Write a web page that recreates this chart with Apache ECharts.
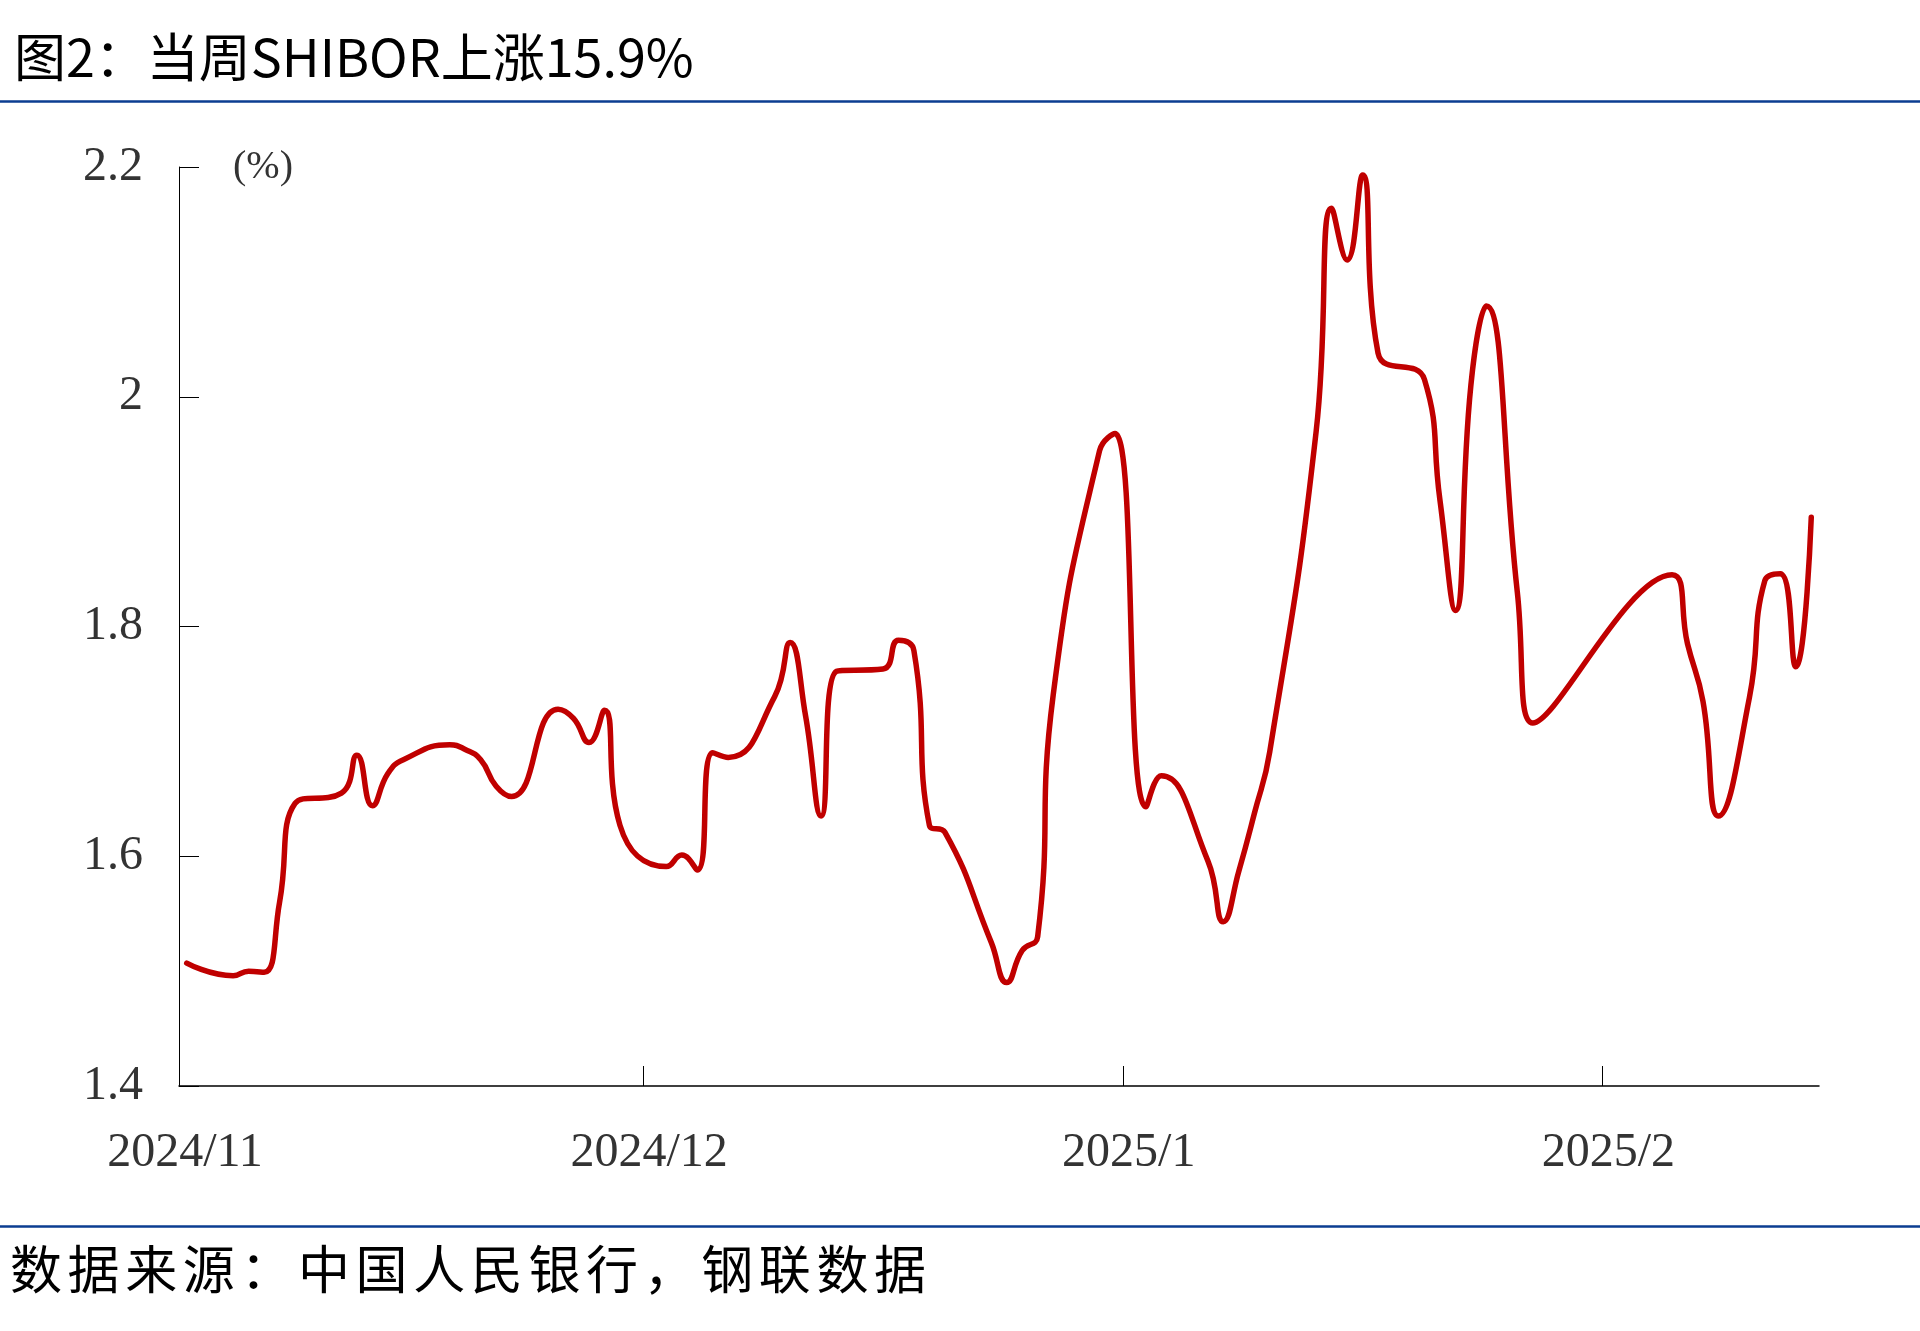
<!DOCTYPE html>
<html>
<head>
<meta charset="utf-8">
<script src="https://cdn.jsdelivr.net/npm/echarts@6/dist/echarts.min.js"></script>
<style>
  html, body { margin: 0; padding: 0; background: #fff; }
  #chart { width: 1920px; height: 1331px; }
</style>
</head>
<body>
<div id="chart"></div>
<script>
// ---- data ----
const titleText = '图2：当周SHIBOR上涨15.9%';
const sourceText = '数据来源：中国人民银行，钢联数据';
const unitLabel = '(%)';

const dates = [
  '2024-11-01','2024-11-04','2024-11-05','2024-11-06','2024-11-07','2024-11-08',
  '2024-11-11','2024-11-12','2024-11-13','2024-11-14','2024-11-15',
  '2024-11-18','2024-11-19','2024-11-20','2024-11-21','2024-11-22',
  '2024-11-25','2024-11-26','2024-11-27','2024-11-28','2024-11-29',
  '2024-12-02','2024-12-03','2024-12-04','2024-12-05','2024-12-06',
  '2024-12-09','2024-12-10','2024-12-11','2024-12-12','2024-12-13',
  '2024-12-16','2024-12-17','2024-12-18','2024-12-19','2024-12-20',
  '2024-12-23','2024-12-24','2024-12-25','2024-12-26','2024-12-27',
  '2024-12-30','2024-12-31',
  '2025-01-02','2025-01-03',
  '2025-01-06','2025-01-07','2025-01-08','2025-01-09','2025-01-10',
  '2025-01-13','2025-01-14','2025-01-15','2025-01-16','2025-01-17',
  '2025-01-20','2025-01-21','2025-01-22','2025-01-23','2025-01-24',
  '2025-01-26','2025-01-27',
  '2025-02-05','2025-02-06','2025-02-07','2025-02-08',
  '2025-02-10','2025-02-11','2025-02-12','2025-02-13','2025-02-14'
];
const shibor = [
  1.507, 1.496, 1.500, 1.499, 1.560, 1.646,
  1.655, 1.688, 1.644, 1.672, 1.684,
  1.697, 1.693, 1.684, 1.661, 1.652,
  1.728, 1.720, 1.699, 1.727, 1.627,
  1.591, 1.601, 1.588, 1.690, 1.686,
  1.739, 1.786, 1.722, 1.635, 1.761,
  1.763, 1.788, 1.779, 1.627, 1.621,
  1.525, 1.490, 1.518, 1.530, 1.740,
  1.953, 1.968,
  1.643, 1.670,
  1.596, 1.543, 1.587, 1.637, 1.691,
  1.970, 2.164, 2.119, 2.193, 2.038,
  2.015, 1.910, 1.814, 2.010, 2.079,
  1.830, 1.716,
  1.845, 1.785, 1.735, 1.635,
  1.738, 1.840, 1.846, 1.765, 1.895
];
const yTicks = [1.4, 1.6, 1.8, 2.0, 2.2];
const xTickDates = ['2024-11-01', '2024-12-01', '2025-01-01', '2025-02-01'];
const xTickLabels = ['2024/11', '2024/12', '2025/1', '2025/2'];
const xRange = ['2024-11-01', '2025-02-15'];

// ---- helpers ----
function toTime(s, hour) {
  const p = s.split('-');
  return new Date(+p[0], +p[1] - 1, +p[2], hour || 0).getTime();
}
// Points sit in the middle of their day slot (date axis "between tick marks")
const seriesData = dates.map((d, i) => [toTime(d, 12), shibor[i]]);
const tickTimes = xTickDates.map(d => toTime(d));
const DAY = 86400000;

// letter-spaced source text via rich spacers
const srcRich = sourceText.split('').map(c => '{c|' + c + '}').join('{s| }');

const chart = echarts.init(document.getElementById('chart'), null, { renderer: 'canvas' });
const serif = '"Liberation Serif", "Times New Roman", serif';
const cjk = '"Noto Sans CJK SC", sans-serif';

chart.setOption({
  backgroundColor: '#ffffff',
  animation: false,
  title: {
    text: titleText,
    left: 14,
    top: 31,
    padding: 0,
    textStyle: { fontFamily: cjk, fontSize: 52, fontWeight: 'normal', color: '#000' }
  },
  grid: { left: 179, right: 101, top: 167, bottom: 245, containLabel: false },
  xAxis: {
    type: 'time',
    min: toTime(xRange[0]),
    max: toTime(xRange[1]),
    splitNumber: 4,
    minInterval: 28 * DAY,
    maxInterval: 31 * DAY,
    splitLine: { show: false },
    axisLine: { show: true, lineStyle: { color: '#000', width: 1.5 } },
    axisTick: {
      show: true, inside: true, length: 20,
      lineStyle: { color: '#000', width: 1 }
    },
    axisLabel: {
      show: true,
      margin: 43,
      fontFamily: serif,
      fontSize: 48,
      color: '#333',
      padding: [0, 0, 0, 12],
      hideOverlap: false,
      formatter: function (v) {
        const t = (typeof v === 'object' && v !== null) ? v.value : v;
        const i = tickTimes.indexOf(t);
        if (i >= 0) return xTickLabels[i];
        const d = new Date(t);
        return d.getFullYear() + '/' + (d.getMonth() + 1);
      }
    }
  },
  yAxis: {
    type: 'value',
    min: yTicks[0],
    max: yTicks[yTicks.length - 1],
    interval: 0.2,
    name: unitLabel,
    nameLocation: 'end',
    nameGap: 0,
    nameTextStyle: {
      fontFamily: serif, fontSize: 40, color: '#333',
      align: 'left', verticalAlign: 'middle', padding: [0, 0, 0, 54]
    },
    splitLine: { show: false },
    axisLine: { show: true, lineStyle: { color: '#000', width: 1 } },
    axisTick: { show: true, inside: true, length: 20, lineStyle: { color: '#000', width: 1 } },
    axisLabel: {
      margin: 36,
      fontFamily: serif,
      fontSize: 48,
      color: '#333',
      padding: [6, 0, 0, 0],
      formatter: function (v) { return String(Math.round(v * 10) / 10); }
    }
  },
  series: [{
    type: 'line',
    name: 'SHIBOR',
    data: seriesData,
    smooth: 0.5,
    showSymbol: false,
    symbol: 'none',
    lineStyle: { color: '#C00000', width: 5.5, cap: 'round', join: 'round' },
    z: 3
  }],
  graphic: [
    { type: 'line', shape: { x1: 0, y1: 101.5, x2: 1920, y2: 101.5 },
      style: { stroke: '#0B3D91', lineWidth: 2.5 }, silent: true },
    { type: 'line', shape: { x1: 0, y1: 1226.5, x2: 1920, y2: 1226.5 },
      style: { stroke: '#0B3D91', lineWidth: 2.5 }, silent: true },
    { type: 'text', left: 10, top: 1243,
      style: {
        text: srcRich,
        rich: {
          c: { fontFamily: cjk, fontSize: 52, fill: '#000' },
          s: { fontFamily: cjk, fontSize: 25, fill: '#000' }
        }
      }, silent: true }
  ]
});
</script>
</body>
</html>
